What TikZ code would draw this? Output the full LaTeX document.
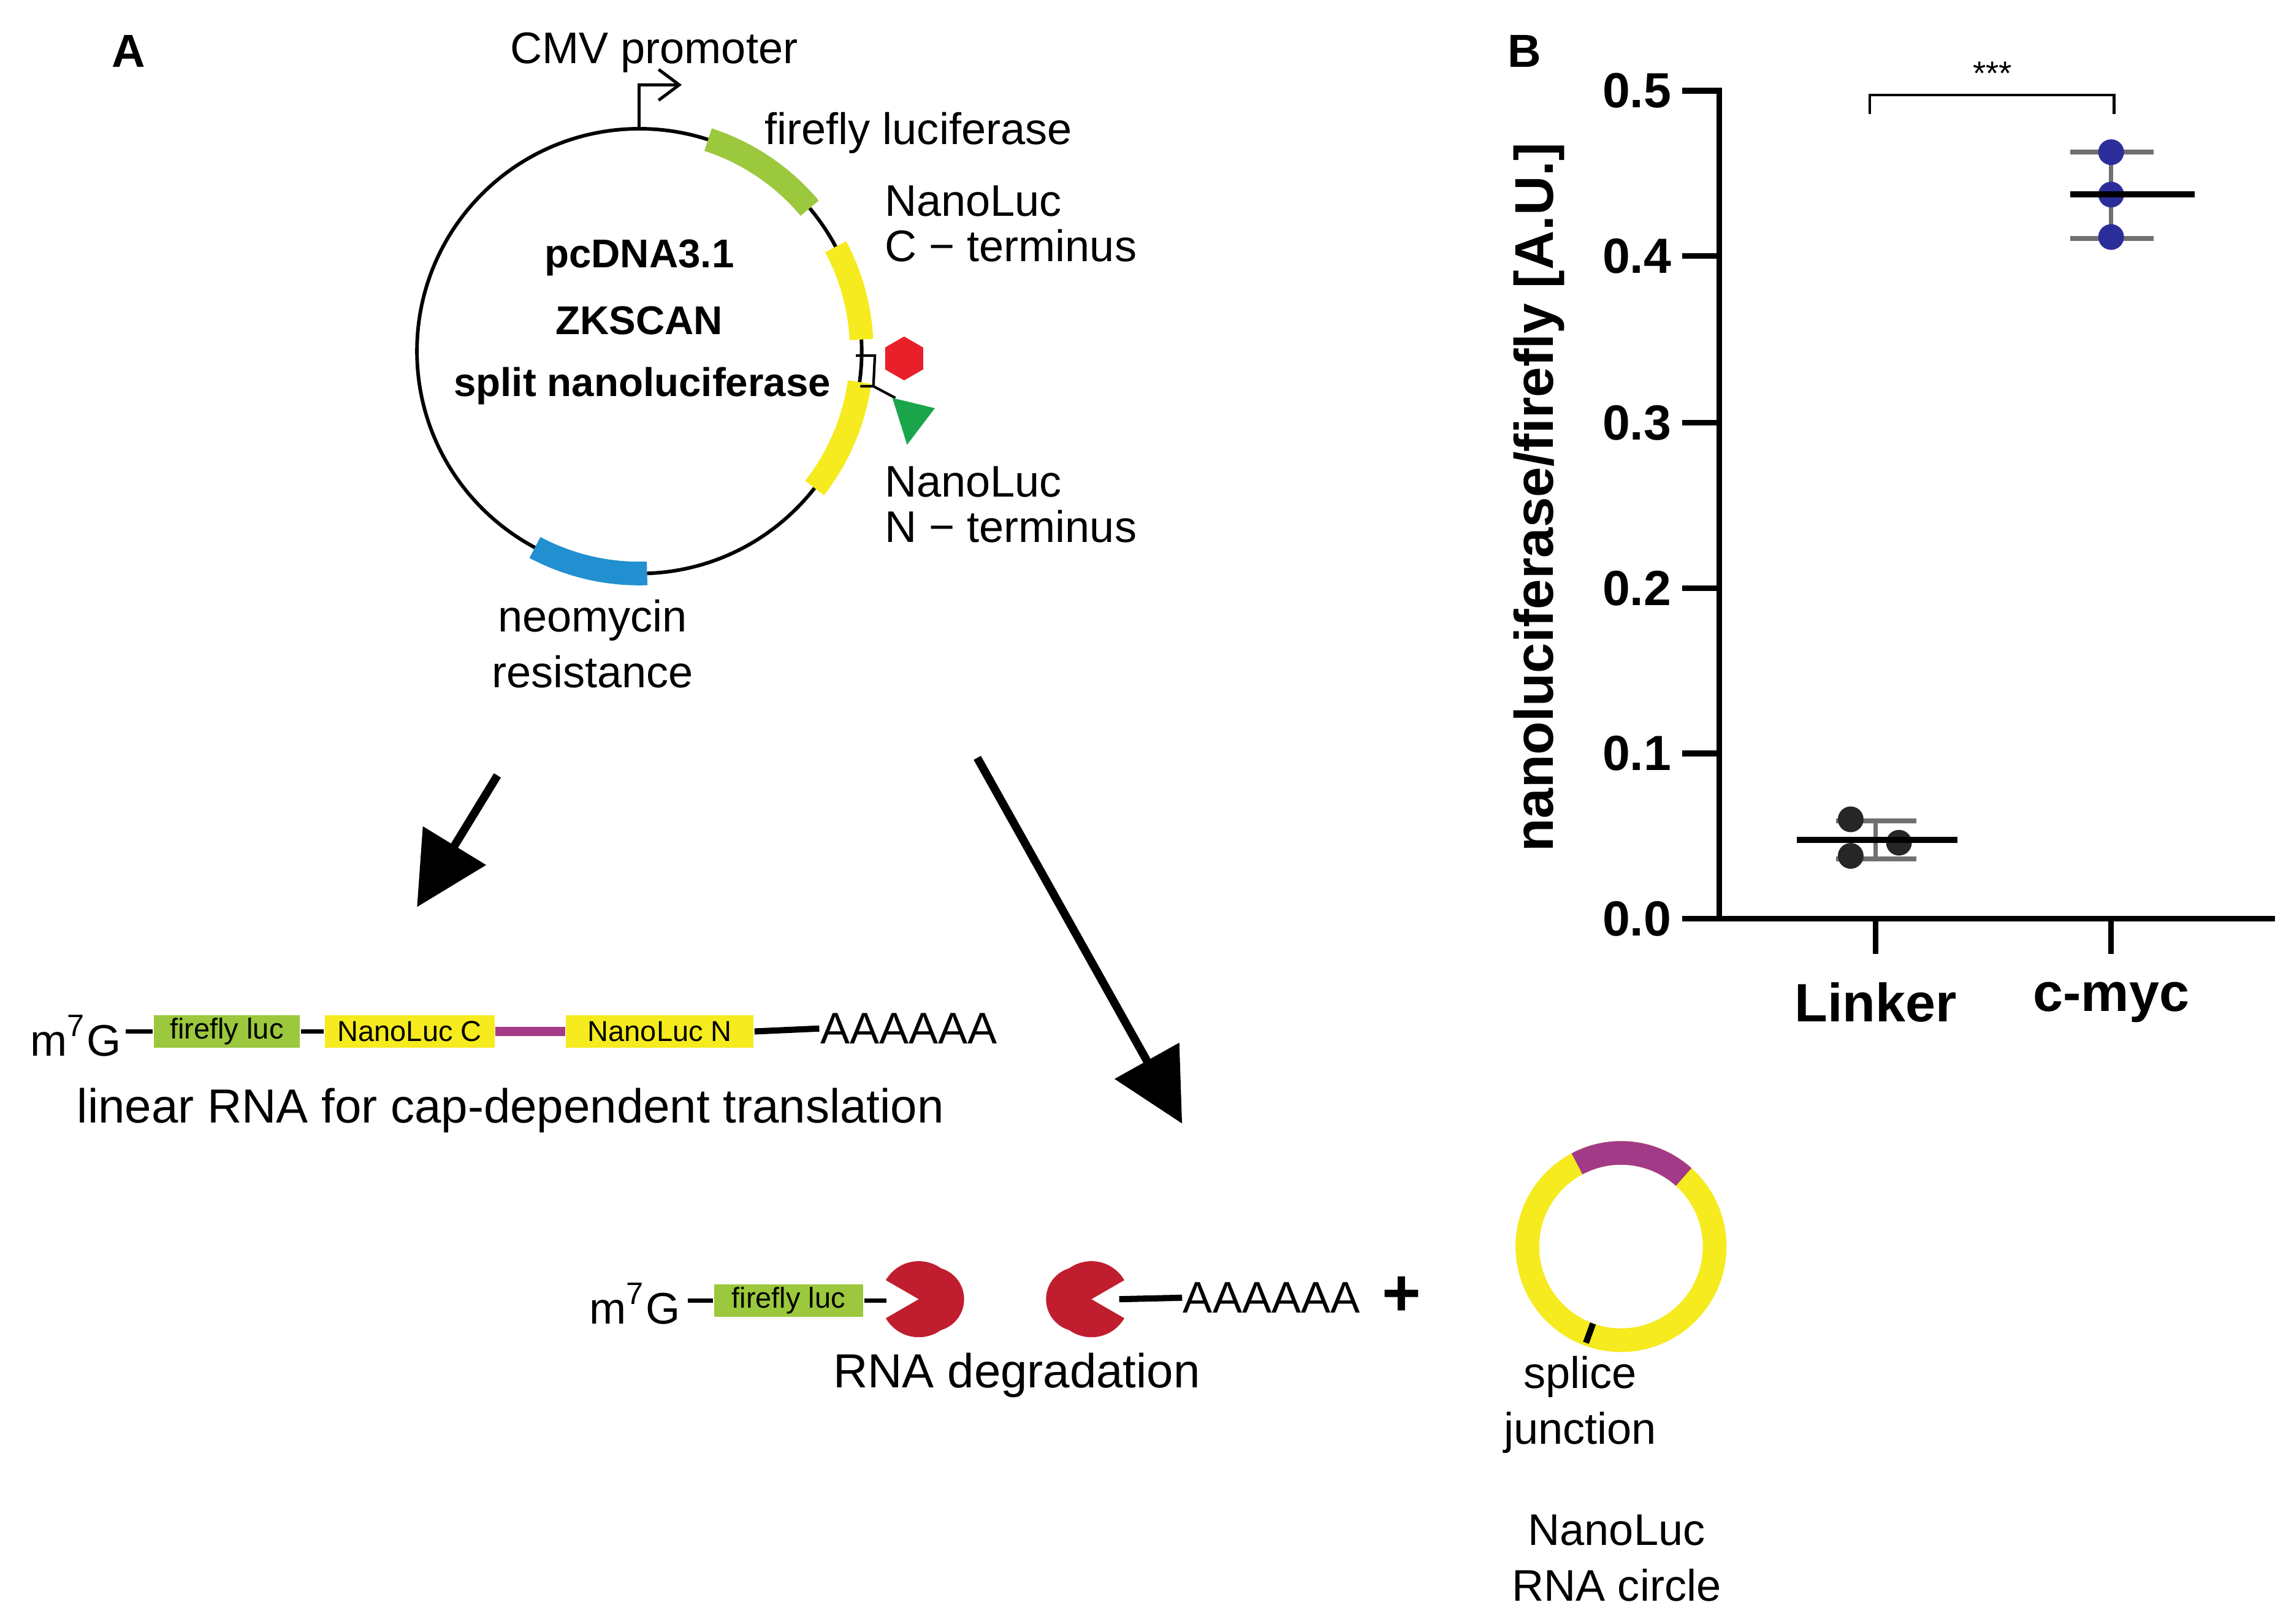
\documentclass[tikz,border=0pt]{standalone}
\usepackage{fontspec}
\setmainfont{Liberation Sans}
\usetikzlibrary{arrows.meta,shapes.geometric}
\definecolor{ffgreen}{HTML}{9BC83C}
\definecolor{nlyellow}{HTML}{F5EB1E}
\definecolor{neoblue}{HTML}{2290D0}
\definecolor{linkmag}{HTML}{A33A88}
\definecolor{hexred}{HTML}{E8202A}
\definecolor{trigreen}{HTML}{1BA54A}
\definecolor{pacred}{HTML}{C01E2E}
\definecolor{dotblue}{HTML}{2B2E9A}
\definecolor{bargray}{HTML}{707070}
\begin{document}
\begin{tikzpicture}[x=0.01cm,y=-0.01cm,
  txt/.style={font=\fontsize{8.6}{9.8}\selectfont,inner sep=0pt},
  btxt/.style={font=\fontsize{7.8}{9}\selectfont\bfseries,inner sep=0pt},
  tick/.style={font=\fontsize{9.6}{11}\selectfont\bfseries,inner sep=0pt,anchor=east},
  seg/.style={line width=4.6pt},
  box/.style={inner sep=0pt,minimum height=22*0.2845pt,font=\fontsize{5.6}{6}\selectfont},
  bigarrow/.style={line width=1.6pt,-{Triangle[length=14pt,width=14pt]}},
  dot/.style={circle,inner sep=0pt,minimum size=5pt}]
\useasboundingbox (0,0) rectangle (1568,1109.6);
% panel letters
\node[font=\fontsize{9}{10}\selectfont\bfseries] (A) at (88,35) {A};
\node[font=\fontsize{9}{10}\selectfont\bfseries] (B) at (1042,35) {B};
% plasmid
\coordinate (pc) at (437,240);
\draw[line width=0.7pt] (pc) circle[radius=152];
\draw[seg,ffgreen] ([shift={(-72:152)}]pc) arc[start angle=-72,end angle=-40,radius=152];
\draw[seg,nlyellow] ([shift={(-28:152)}]pc) arc[start angle=-28,end angle=-3,radius=152];
\draw[seg,nlyellow] ([shift={(8:152)}]pc) arc[start angle=8,end angle=38,radius=152];
\draw[seg,neoblue] ([shift={(88:152)}]pc) arc[start angle=88,end angle=118,radius=152];
\coordinate (p1) at (437,88);
\draw[line width=0.6pt,-{Straight Barb[length=4pt,width=6pt]}] (p1) -- (437,58) -- (466,58);
\node[txt] (cmv) at (447,36) {CMV promoter};
\draw[line width=0.5pt] (585,243) -- (598,243) -- (597,264) -- (588,264);
\draw[line width=0.5pt] (597,264) -- (612,272);
\node[regular polygon,regular polygon sides=6,fill=hexred,minimum size=30*0.2845pt,inner sep=0pt,rotate=30] (hex) at (618,245) {};
\fill[trigreen] (610,272) -- (639,279) -- (620,304) -- cycle;
\node[btxt] (l1) at (437,176) {pcDNA3.1};
\node[btxt] (l2) at (437,219) {ZKSCAN};
\node[btxt] (l3) at (439,264) {split nanoluciferase};
\node[txt,anchor=west] (ffl) at (522,91) {firefly luciferase};
\node[txt,anchor=west,align=left] (nlc) at (604,153) {NanoLuc\\[-1pt]C − terminus};
\node[txt,anchor=west,align=left] (nln) at (604,345) {NanoLuc\\[-1pt]N − terminus};
\node[txt,align=center] (neo) at (405,440) {neomycin\\[1pt]resistance};
% big arrows
\coordinate (a1s) at (340,530); \coordinate (a1e) at (285,620);
\coordinate (a2s) at (668,518); \coordinate (a2e) at (808,768);
\draw[bigarrow] (a1s) -- (a1e);
\draw[bigarrow] (a2s) -- (a2e);
% linear RNA
\node[txt,anchor=west] (cap1) at (20,708) {m\textsuperscript{7}G};
\node[box,fill=ffgreen,minimum width=100*0.2845pt] (ff1) at (155,705) {firefly luc};
\node[box,fill=nlyellow,minimum width=116*0.2845pt] (nc1) at (280,705) {NanoLuc C};
\node[box,fill=nlyellow,minimum width=128*0.2845pt] (nn1) at (451,705) {NanoLuc N};
\node[txt,anchor=west] (pa1) at (560,703) {AAAAAA};
\draw[line width=0.9pt] (86,705) -- (ff1.west);
\draw[line width=0.9pt] (ff1.east) -- (nc1.west);
\draw[line width=1.8pt,linkmag] (nc1.east) -- (nn1.west);
\draw[line width=1.2pt] (nn1.east) -- (pa1.west);
\node[txt,font=\fontsize{9.3}{10}\selectfont] (lin) at (349,759) {linear RNA for cap-dependent translation};
% degraded RNA
\node[txt,anchor=west] (cap2) at (402,891) {m\textsuperscript{7}G};
\node[box,fill=ffgreen,minimum width=102*0.2845pt] (ff2) at (539,889) {firefly luc};
\draw[line width=0.9pt] (470,889) -- (ff2.west);
\coordinate (ffe) at (606,889);
\draw[line width=0.9pt] (ff2.east) -- (ffe);
\fill[pacred] (628,888) -- ++(-30:26) arc[start angle=-30,end angle=-150,radius=26] -- cycle;
\fill[pacred] (628,888) -- ++(30:26) arc[start angle=30,end angle=150,radius=26] -- cycle;
\fill[pacred] (637,888) ++(-80:22) arc[start angle=-80,end angle=80,radius=22] -- (628,888) -- cycle;
\fill[pacred] (746,888) -- ++(-150:26) arc[start angle=-150,end angle=-30,radius=26] -- cycle;
\fill[pacred] (746,888) -- ++(150:26) arc[start angle=150,end angle=30,radius=26] -- cycle;
\fill[pacred] (737,888) ++(-100:22) arc[start angle=-100,end angle=-260,radius=22] -- (746,888) -- cycle;
\node[txt,anchor=west] (pa2) at (808,887) {AAAAAA};
\coordinate (ls) at (765,888);
\draw[line width=1.2pt] (ls) -- (pa2.west);
\node[font=\fontsize{13}{13}\selectfont\bfseries,inner sep=0pt] (plus) at (958,886) {+};
\node[txt,font=\fontsize{9.3}{10}\selectfont] (deg) at (695,940) {RNA degradation};
% circle RNA
\coordinate (rc) at (1108,852);
\draw[line width=4.6pt,nlyellow] (rc) circle[radius=64];
\draw[line width=4.6pt,linkmag] ([shift={(-48:64)}]rc) arc[start angle=-48,end angle=-118,radius=64];
\draw[line width=1.2pt] ([shift={(110:56)}]rc) -- ([shift={(110:70)}]rc);
\node[txt,align=center] (spl) at (1080,960) {splice\\[1pt]junction};
\node[txt,align=center] (nlr) at (1105,1065) {NanoLuc\\[1pt]RNA circle};
% panel B plot
\coordinate (o) at (1175,628);
\draw[line width=1.1pt] (1175,60) -- (o) -- (1555,628);
\foreach \v/\yy in {0.5/62,0.4/175,0.3/289,0.2/402,0.1/515,0.0/628}{
  \draw[line width=1.1pt] (1150,\yy) -- (1175,\yy);
  \node[tick] at (1143,\yy) {\v};
}
\draw[line width=1.1pt] (1282,628) -- (1282,652);
\draw[line width=1.1pt] (1443,628) -- (1443,652);
\node[font=\fontsize{10.5}{12}\selectfont\bfseries,inner sep=0pt] (xl1) at (1282,685) {Linker};
\node[font=\fontsize{10.5}{12}\selectfont\bfseries,inner sep=0pt] (xl2) at (1443,685) {c-myc};
\node[font=\fontsize{10.6}{12}\selectfont\bfseries,inner sep=0pt,rotate=90] (yl) at (1052,340) {nanoluciferase/firefly [A.U.]};
% Linker data
\draw[line width=0.9pt,bargray] (1282,561) -- (1282,587) (1255,561) -- (1310,561) (1255,587) -- (1310,587);
\node[dot,fill=black!85] (d1) at (1265,560) {};
\node[dot,fill=black!85] (d2) at (1298,576) {};
\node[dot,fill=black!85] (d3) at (1265,585) {};
\draw[line width=1.2pt] (1228,574) -- (1338,574);
% c-myc data
\draw[line width=0.9pt,bargray] (1443,104) -- (1443,163) (1415,104) -- (1472,104) (1415,163) -- (1472,163);
\node[dot,fill=dotblue] (e1) at (1443,104) {};
\node[dot,fill=dotblue] (e2) at (1443,133) {};
\node[dot,fill=dotblue] (e3) at (1443,162) {};
\draw[line width=1.2pt] (1415,133) -- (1500,133);
% significance
\draw[line width=0.5pt] (1278,78) -- (1278,65) -- (1445,65) -- (1445,78);
\node[font=\fontsize{6.5}{7}\selectfont,inner sep=0pt] (sig) at (1362,50) {***};
\end{tikzpicture}
\end{document}
